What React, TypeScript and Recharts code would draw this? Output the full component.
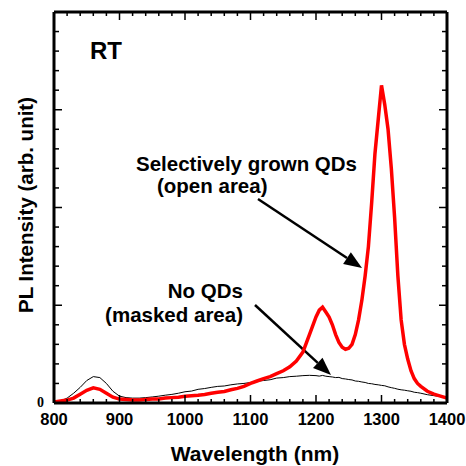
import { LineChart, Line, XAxis, YAxis } from "recharts";

// wavelength (nm)
const wavelengths = [
  800, 810, 820, 830, 840, 850, 860, 870, 880, 890,
  900, 910, 920, 930, 940, 950, 960, 970, 980, 990,
  1000, 1010, 1020, 1030, 1040, 1050, 1060, 1070, 1080, 1090,
  1100, 1110, 1120, 1130, 1140, 1150, 1160, 1170, 1180, 1190,
  1200, 1205, 1210, 1215, 1220, 1225, 1230, 1235, 1240, 1245,
  1250, 1255, 1260, 1265, 1270, 1275, 1280, 1285, 1290, 1295,
  1300, 1305, 1310, 1315, 1320, 1325, 1330, 1335, 1340, 1345,
  1350, 1355, 1360, 1370, 1380, 1390, 1400,
];

// selectively grown QDs (open area)
const openArea = [
  0.01, 0.02, 0.03, 0.05, 0.09, 0.13, 0.155, 0.14, 0.1, 0.06,
  0.04, 0.035, 0.03, 0.03, 0.035, 0.04, 0.042, 0.05, 0.055, 0.06,
  0.068, 0.075, 0.08, 0.088, 0.1, 0.11, 0.118, 0.135, 0.15, 0.17,
  0.2, 0.225, 0.25, 0.27, 0.3, 0.33, 0.37, 0.43, 0.52, 0.7,
  0.88, 0.95, 0.98, 0.93, 0.88, 0.8, 0.7, 0.62, 0.57, 0.55,
  0.56, 0.6, 0.7, 0.85, 1.05, 1.3, 1.6, 2.05, 2.55, 2.9,
  3.25, 3.05, 2.8, 2.4, 1.9, 1.3, 0.85, 0.6, 0.45, 0.33,
  0.25, 0.2, 0.17, 0.12, 0.09, 0.07, 0.05,
];

// no QDs (masked area)
const maskedArea = [
  0.01, 0.02, 0.05, 0.1, 0.16, 0.23, 0.27, 0.26, 0.2, 0.12,
  0.07, 0.055, 0.05, 0.05, 0.055, 0.062, 0.07, 0.08, 0.088, 0.1,
  0.115, 0.122, 0.14, 0.148, 0.16, 0.17, 0.174, 0.186, 0.195, 0.2,
  0.21, 0.222, 0.23, 0.238, 0.255, 0.26, 0.27, 0.274, 0.28, 0.283,
  0.28, 0.275, 0.282, 0.274, 0.27, 0.266, 0.26, 0.262, 0.25, 0.246,
  0.24, 0.236, 0.225, 0.222, 0.215, 0.21, 0.2, 0.197, 0.19, 0.186,
  0.18, 0.176, 0.165, 0.157, 0.15, 0.141, 0.135, 0.131, 0.125, 0.12,
  0.11, 0.106, 0.1, 0.085, 0.075, 0.066, 0.06,
];

const xTicks = Array.from({ length: 31 }, (_, i) => 800 + i * 20);
const yTicks = Array.from({ length: 21 }, (_, i) => +(i * 0.2).toFixed(1));

const data = wavelengths.map((wl, i) => ({
  wl,
  open: openArea[i],
  masked: maskedArea[i],
}));

const font = "'Liberation Sans', Arial, sans-serif";

const isMajorX = (v: number) => v % 100 === 0;
const isMajorY = (v: number) => Math.abs(v - Math.round(v)) < 1e-6;

const BottomTick = ({ x, y, payload }: any) => {
  const major = isMajorX(payload.value);
  return (
    <g>
      <line x1={x} y1={y} x2={x} y2={y - (major ? 8 : 4)} stroke="#000" strokeWidth={1.5} />
      {major && (
        <text x={x} y={y + 22} textAnchor="middle" fontFamily={font} fontWeight="bold" fontSize={16.5} fill="#000">
          {payload.value}
        </text>
      )}
    </g>
  );
};

const TopTick = ({ x, y, payload }: any) => {
  const major = isMajorX(payload.value);
  return <line x1={x} y1={y} x2={x} y2={y + (major ? 8 : 4)} stroke="#000" strokeWidth={1.5} />;
};

const LeftTick = ({ x, y, payload }: any) => {
  const major = isMajorY(payload.value);
  return (
    <g>
      <line x1={x} y1={y} x2={x + (major ? 8 : 5)} y2={y} stroke="#000" strokeWidth={1.5} />
      {payload.value === 0 && (
        <text x={x - 10} y={y + 4} textAnchor="end" fontFamily="'Liberation Serif', 'Times New Roman', serif" fontWeight="bold" fontSize={14} fill="#000">
          0
        </text>
      )}
    </g>
  );
};

const RightTick = ({ x, y, payload }: any) => {
  const major = isMajorY(payload.value);
  return <line x1={x} y1={y} x2={x - (major ? 8 : 5)} y2={y} stroke="#000" strokeWidth={1.5} />;
};

function Arrow({ x1, y1, x2, y2 }: { x1: number; y1: number; x2: number; y2: number }) {
  const len = Math.hypot(x2 - x1, y2 - y1);
  const ux = (x2 - x1) / len;
  const uy = (y2 - y1) / len;
  const headLen = 18;
  const headW = 7;
  const bx = x2 - ux * headLen;
  const by = y2 - uy * headLen;
  return (
    <g>
      <line x1={x1} y1={y1} x2={bx} y2={by} stroke="#000" strokeWidth={2.5} />
      <polygon
        points={`${x2},${y2} ${bx - uy * headW},${by + ux * headW} ${bx + uy * headW},${by - ux * headW}`}
        fill="#000"
      />
    </g>
  );
}

const axisStroke = { stroke: "#000", strokeWidth: 3 };

export default function App() {
  return (
    <div style={{ position: "absolute", left: 0, top: 0, width: 466, height: 466, background: "#fff" }}>
      <LineChart width={466} height={466} data={data} margin={{ top: 0, right: 0, bottom: 0, left: 0 }}>
        <XAxis
          dataKey="wl"
          type="number"
          domain={[800, 1400]}
          ticks={xTicks}
          interval={0}
          allowDataOverflow
          height={63}
          tickSize={0}
          tickMargin={0}
          tickLine={false}
          axisLine={axisStroke}
          tick={<BottomTick />}
        />
        <XAxis
          xAxisId="top"
          orientation="top"
          dataKey="wl"
          type="number"
          domain={[800, 1400]}
          ticks={xTicks}
          interval={0}
          allowDataOverflow
          height={12}
          tickSize={0}
          tickMargin={0}
          tickLine={false}
          axisLine={axisStroke}
          tick={<TopTick />}
        />
        <YAxis
          type="number"
          domain={[0, 4]}
          ticks={yTicks}
          interval={0}
          allowDataOverflow
          width={54}
          tickSize={0}
          tickMargin={0}
          tickLine={false}
          axisLine={axisStroke}
          tick={<LeftTick />}
        />
        <YAxis
          yAxisId="right"
          orientation="right"
          type="number"
          domain={[0, 4]}
          ticks={yTicks}
          interval={0}
          allowDataOverflow
          width={19}
          tickSize={0}
          tickMargin={0}
          tickLine={false}
          axisLine={axisStroke}
          tick={<RightTick />}
        />
        <Line
          dataKey="masked"
          type="linear"
          stroke="#000"
          strokeWidth={1}
          dot={false}
          isAnimationActive={false}
        />
        <Line
          dataKey="open"
          type="linear"
          stroke="#ff0000"
          strokeWidth={3.5}
          dot={false}
          isAnimationActive={false}
        />

        <text x={90} y={59} fontFamily={font} fontWeight="bold" fontSize={24} fill="#000">RT</text>
        <text x={136} y={171} fontFamily={font} fontWeight="bold" fontSize={20.5} fill="#000">Selectively grown QDs</text>
        <text x={157} y={193} fontFamily={font} fontWeight="bold" fontSize={20.5} fill="#000">(open area)</text>
        <text x={243} y={298} textAnchor="end" fontFamily={font} fontWeight="bold" fontSize={20.5} fill="#000">No QDs</text>
        <text x={243} y={322} textAnchor="end" fontFamily={font} fontWeight="bold" fontSize={20.5} fill="#000">(masked area)</text>
        <Arrow x1={258} y1={199} x2={362} y2={268} />
        <Arrow x1={255} y1={305} x2={331} y2={375} />

        <text x={255} y={461} textAnchor="middle" fontFamily={font} fontWeight="bold" fontSize={21} fill="#000">Wavelength (nm)</text>
        <text
          x={33}
          y={205}
          textAnchor="middle"
          transform="rotate(-90 33 205)"
          fontFamily={font}
          fontWeight="bold"
          fontSize={20.5}
          fill="#000"
        >
          PL Intensity (arb. unit)
        </text>
      </LineChart>
    </div>
  );
}
